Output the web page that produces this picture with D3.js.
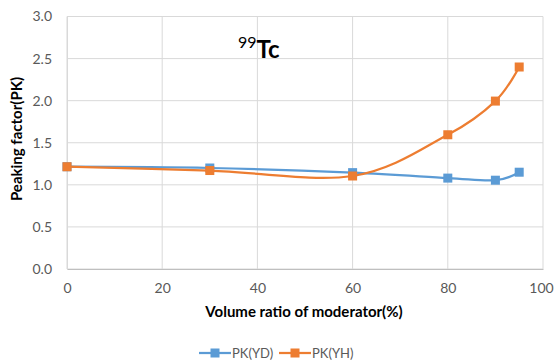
<!DOCTYPE html>
<html>
<head>
<meta charset="utf-8">
<script src="https://cdn.jsdelivr.net/npm/d3@7"></script>
<style>
  html, body { margin: 0; padding: 0; background: #fff; }
  svg { display: block; font-family: Lato, "Open Sans", sans-serif; }
</style>
</head>
<body>
<svg id="chart" width="554" height="362"></svg>
<script>
// Moderator volume ratio (%) and peaking factors for the two moderators
const volumeRatio = [0, 30, 60, 80, 90, 95];
const pkYD = [1.215, 1.2, 1.145, 1.08, 1.055, 1.15];
const pkYH = [1.215, 1.17, 1.105, 1.595, 1.995, 2.4];
const xTicks = [0, 20, 40, 60, 80, 100];
const yTicks = [0.0, 0.5, 1.0, 1.5, 2.0, 2.5, 3.0];
const seriesNames = ["PK(YD)", "PK(YH)"];
const seriesColors = ["#5B9BD5", "#ED7D31"];

const svg = d3.select("#chart");
const plot = { left: 67, right: 543, top: 16.5, bottom: 269 };

const x = d3.scaleLinear().domain([0, 100]).range([plot.left, plot.right]);
const y = d3.scaleLinear().domain([0, 3]).range([plot.bottom, plot.top]);

// Gridlines
svg.append("g").selectAll("line.h").data(yTicks).join("line")
  .attr("x1", plot.left).attr("x2", plot.right)
  .attr("y1", d => y(d)).attr("y2", d => y(d))
  .attr("stroke", "#d9d9d9").attr("stroke-width", 1);
svg.append("g").selectAll("line.v").data(xTicks).join("line")
  .attr("x1", d => x(d)).attr("x2", d => x(d))
  .attr("y1", plot.top).attr("y2", plot.bottom)
  .attr("stroke", "#d9d9d9").attr("stroke-width", 1);

// Axes (labels only, Excel-style)
const xAxis = d3.axisBottom(x).tickValues(xTicks).tickSize(0).tickPadding(14).tickFormat(d3.format("d"));
const gx = svg.append("g").attr("transform", `translate(0,${plot.bottom})`).call(xAxis);
gx.select(".domain").attr("stroke", "#bfbfbf");
gx.selectAll("text").attr("fill", "#595959").attr("font-size", 14).attr("font-family", "Lato, 'Open Sans', sans-serif");
gx.selectAll(".tick").filter(d => d === 100).select("text").attr("dx", -2);

const yAxis = d3.axisLeft(y).tickValues(yTicks).tickSize(0).tickPadding(15).tickFormat(d3.format(".1f"));
const gy = svg.append("g").attr("transform", `translate(${plot.left},0)`).call(yAxis);
gy.select(".domain").attr("stroke", "#d9d9d9");
gy.selectAll("text").attr("fill", "#595959").attr("font-size", 14).attr("font-family", "Lato, 'Open Sans', sans-serif");

// Series lines with square markers
const series = [pkYD, pkYH];
const line = d3.line().x(d => x(d[0])).y(d => y(d[1])).curve(d3.curveCardinal.tension(0));
series.forEach((vals, i) => {
  const pts = volumeRatio.map((v, j) => [v, vals[j]]);
  svg.append("path").datum(pts)
    .attr("d", line).attr("fill", "none")
    .attr("stroke", seriesColors[i]).attr("stroke-width", 2.25);
  svg.append("g").selectAll("rect").data(pts).join("rect")
    .attr("x", d => x(d[0]) - 4.5).attr("y", d => y(d[1]) - 4.5)
    .attr("width", 9).attr("height", 9).attr("fill", seriesColors[i]);
});

// Title with superscript mass number
const title = svg.append("text").attr("x", 238).attr("y", 58)
  .attr("font-weight", "bold").attr("fill", "#000");
title.append("tspan").attr("font-size", 16).attr("font-weight", "normal").attr("dy", -10).text("99");
title.append("tspan").attr("font-size", 24).attr("dy", 10).text("Tc");

// Axis titles
svg.append("text").attr("x", (plot.left + plot.right) / 2 - 1).attr("y", 317)
  .attr("text-anchor", "middle").attr("font-weight", "bold").attr("font-size", 15)
  .attr("fill", "#000").text("Volume ratio of moderator(%)");
svg.append("text").attr("transform", `translate(22,139) rotate(-90)`)
  .attr("text-anchor", "middle").attr("font-weight", "bold").attr("font-size", 15)
  .attr("fill", "#000").text("Peaking factor(PK)");

// Legend
const legend = svg.append("g");
const legendX = [199, 279];
seriesNames.forEach((name, i) => {
  const g = legend.append("g").attr("transform", `translate(${legendX[i]},353)`);
  g.append("line").attr("x1", 0).attr("x2", 32).attr("y1", 0).attr("y2", 0)
    .attr("stroke", seriesColors[i]).attr("stroke-width", 2.25);
  g.append("rect").attr("x", 11.5).attr("y", -4.5).attr("width", 9).attr("height", 9)
    .attr("fill", seriesColors[i]);
  g.append("text").attr("x", 33).attr("y", 5).attr("font-size", 13)
    .attr("fill", "#595959").text(name);
});
</script>
</body>
</html>
